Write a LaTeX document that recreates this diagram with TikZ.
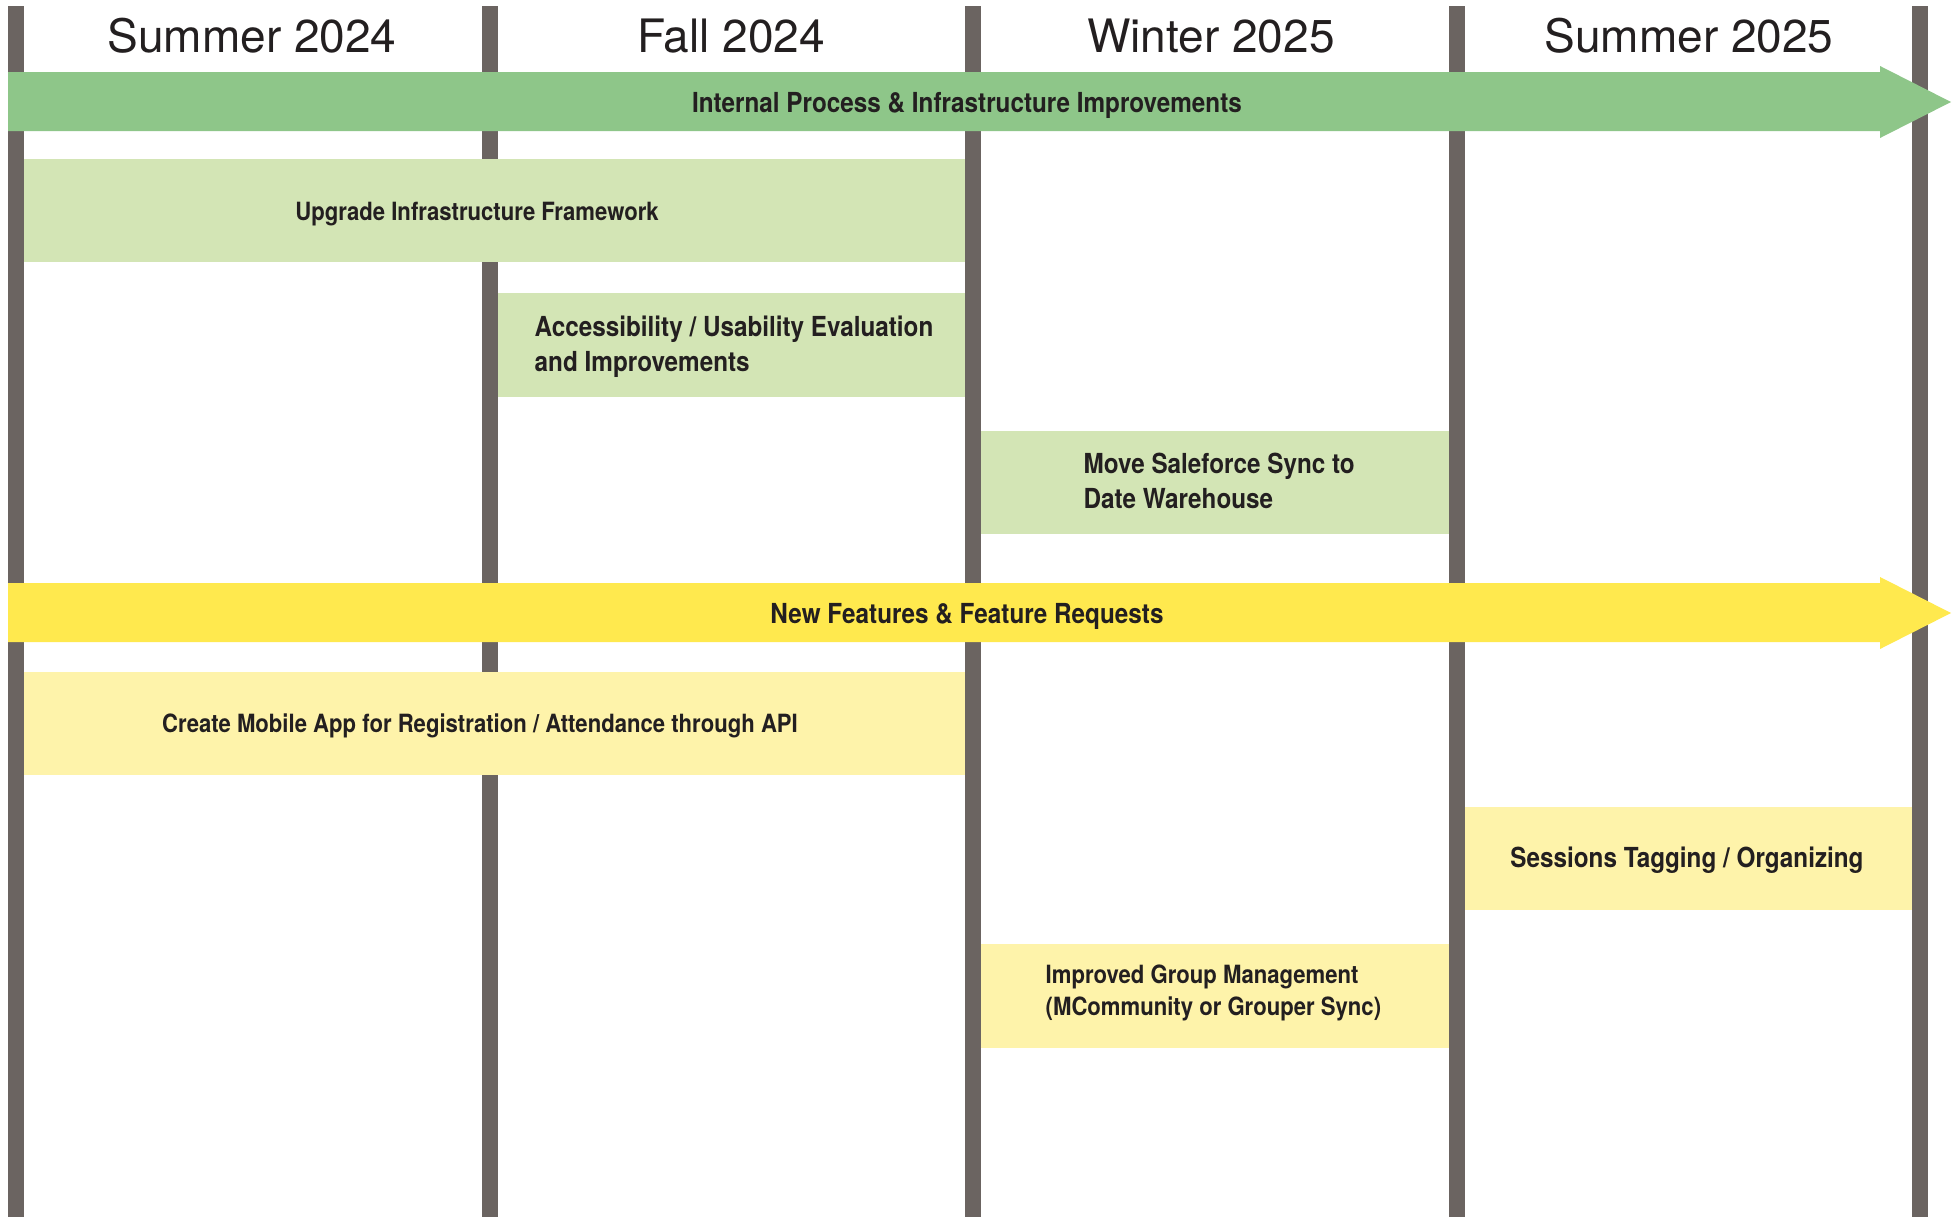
\documentclass[tikz,border=0pt]{standalone}
\usepackage{fontspec}
\setmainfont{TeX Gyre Heros}
\newfontfamily\condfont[FakeStretch=0.88]{TeX Gyre Heros}
\usepackage{xcolor}
\usepackage{tikz}
\definecolor{divgray}{RGB}{107, 100, 97}
\definecolor{bandgreen}{RGB}{142, 198, 137}
\definecolor{boxgreen}{RGB}{211, 229, 181}
\definecolor{bandyellow}{RGB}{255, 233, 78}
\definecolor{boxyellow}{RGB}{254, 243, 170}
\definecolor{inkblack}{RGB}{35, 31, 32}

\begin{document}
\begin{tikzpicture}[
    x=0.1mm, y=-0.1mm,
    divider/.style={divgray, line width=1.6mm},
    season/.style={anchor=base, inner sep=0pt, text=inkblack, font=\fontsize{13.1}{15}\selectfont},
    lane/.style={anchor=base, inner sep=0pt, text=inkblack, font=\condfont\bfseries\fontsize{7.85}{10}\selectfont},
    task/.style={inner sep=0pt, text=inkblack, align=left, font=\condfont\bfseries\fontsize{7.85}{9.96}\selectfont},
    tasksmall/.style={task, font=\condfont\bfseries\fontsize{7.15}{9.1}\selectfont}
]
\useasboundingbox (0,0) rectangle (1958,1217);
\fill[white] (0,0) rectangle (1958,1217);

% season columns
\foreach \x in {16,490,973,1457,1920}
    \draw[divider] (\x,6) -- (\x,1217);

\node[season] (summer24) at (252,52) {Summer 2024};
\node[season] (fall24) at (731,52) {Fall 2024};
\node[season] (winter25) at (1211,52) {Winter 2025};
\node[season] (summer25) at (1689,52) {Summer 2025};

% internal lane
\fill[bandgreen] (8,72) -- (1880,72) -- (1880,66) -- (1951,102) -- (1880,138) -- (1880,131) -- (8,131) -- cycle;
\node[lane] (internal) at (967,112) {Internal Process \& Infrastructure Improvements};

\fill[boxgreen] (24,159) rectangle (965,262);
\node[tasksmall, anchor=base] (upgrade) at (477,220) {Upgrade Infrastructure Framework};

\fill[boxgreen] (498,293) rectangle (965,397);
\node[task, anchor=west] (access) at (534,346.4) {Accessibility / Usability Evaluation\\and Improvements};

\fill[boxgreen] (981,431) rectangle (1449,534);
\node[task, anchor=west] (salesforce) at (1083,481) {Move Saleforce Sync to\\Date Warehouse};

% features lane
\fill[bandyellow] (8,583) -- (1880,583) -- (1880,577) -- (1951,613) -- (1880,649) -- (1880,642) -- (8,642) -- cycle;
\node[lane] (features) at (967,623) {New Features \& Feature Requests};

\fill[boxyellow] (24,672) rectangle (965,775);
\node[tasksmall, anchor=base] (mobile) at (480,732) {Create Mobile App for Registration / Attendance through API};

\fill[boxyellow] (1465,807) rectangle (1912,910);
\node[task, anchor=base] (tagging) at (1687,867) {Sessions Tagging / Organizing};

\fill[boxyellow] (981,944) rectangle (1449,1048);
\node[tasksmall, anchor=west] (groups) at (1045,992.6) {Improved Group Management\\(MCommunity or Grouper Sync)};

\end{tikzpicture}
\end{document}
